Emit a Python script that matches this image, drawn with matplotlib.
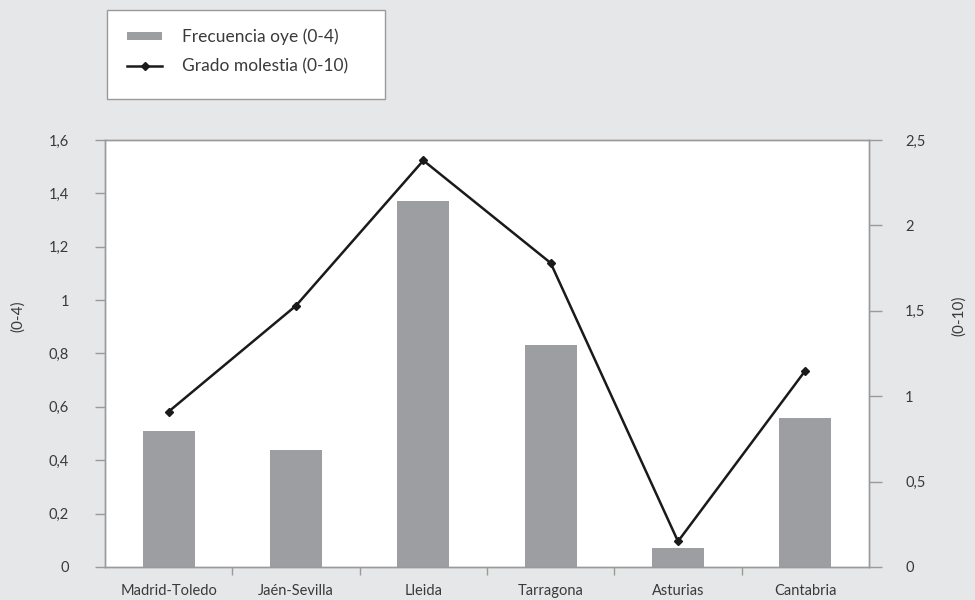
import numpy as np
import matplotlib
matplotlib.use("Agg")
from matplotlib import pyplot as plt
from matplotlib.ticker import FixedLocator
from matplotlib.patches import Rectangle

# regional data: how often the noise is heard (0-4) and annoyance grade (0-10)
regiones = ["Madrid-Toledo", "Jaén-Sevilla", "Lleida", "Tarragona",
            "Asturias", "Cantabria"]
frecuencia = [0.51, 0.44, 1.37, 0.83, 0.07, 0.56]
molestia = [0.91, 1.53, 2.38, 1.78, 0.15, 1.15]

ticks_izq = [0, 0.2, 0.4, 0.6, 0.8, 1.0, 1.2, 1.4, 1.6]
ticks_der = [0, 0.5, 1.0, 1.5, 2.0, 2.5]

fondo = "#e6e7e8"
gris_eje = "#9a9a9a"
gris_barra = "#9d9ea2"
texto = "#3a3a3a"

plt.rcParams["font.family"] = ["Lato", "DejaVu Sans"]

W, H = 975, 600


def coma(v):
    # decimal comma, no trailing zeros
    s = f"{v:g}"
    return s.replace(".", ",")


fig = plt.figure(figsize=(W / 100, H / 100), dpi=100, facecolor=fondo)
ax = fig.add_axes([105 / W, 33 / H, 764 / W, 427 / H])
ax2 = ax.twinx()

x = np.arange(len(regiones))
barras = ax.bar(x, frecuencia, width=0.41, color=gris_barra,
                label="Frecuencia oye (0-4)", zorder=2)
linea, = ax2.plot(x, molestia, color="#1a1a1a", linewidth=1.8,
                  marker="D", markersize=4, label="Grado molestia (0-10)")

ax.set_xlim(-0.5, len(regiones) - 0.5)
ax.set_ylim(0, 1.6)
ax2.set_ylim(0, 2.5)

# left axis
ax.yaxis.set_major_locator(FixedLocator(ticks_izq))
ax.set_yticklabels([coma(v) for v in ticks_izq])
ax.tick_params(axis="y", direction="out", length=7, width=1,
               color=gris_eje, pad=19, labelsize=10.5, labelcolor=texto)

# right axis
ax2.yaxis.set_major_locator(FixedLocator(ticks_der))
ax2.set_yticklabels([coma(v) for v in ticks_der])
ax2.tick_params(axis="y", direction="out", length=9, width=1,
                color=gris_eje, pad=17, labelsize=10.5, labelcolor=texto)

# category names centred, tick marks on the boundaries
ax.set_xticks(x)
ax.set_xticklabels(regiones)
ax.tick_params(axis="x", which="major", length=0, pad=12.5,
               labelsize=10.5, labelcolor=texto)
ax.set_xticks(np.arange(0.5, len(regiones) - 0.5), minor=True)
ax.tick_params(axis="x", which="minor", direction="out", length=6,
               width=1, color=gris_eje)

for a in (ax, ax2):
    for sp in a.spines.values():
        sp.set_color(gris_eje)
        sp.set_linewidth(1)

ax.set_facecolor("white")
ax.set_ylabel("(0-4)", fontsize=11, color=texto)
ax.yaxis.set_label_coords((25 - 105) / 764, (567 - 316) / 427)
ax2.set_ylabel("(0-10)", fontsize=11, color=texto, rotation=90)
ax2.yaxis.set_label_coords((952 - 105) / 764, (567 - 316) / 427)

# legend box at the top left
fig.patches.append(Rectangle((107 / W, 1 - 99 / H), 278 / W, 89 / H,
                             transform=fig.transFigure, facecolor="white",
                             edgecolor=gris_eje, linewidth=1, zorder=0))
leg = fig.legend(handles=[barras, linea], loc="upper left",
                 bbox_to_anchor=(110 / W, 1 - 11 / H),
                 frameon=False, fontsize=12.5,
                 handlelength=2.0, handleheight=0.35, borderpad=1.0,
                 labelspacing=0.75, handletextpad=1.15, borderaxespad=0)
for t in leg.get_texts():
    t.set_color(texto)

fig.savefig("out.png", dpi=100, facecolor=fondo)
